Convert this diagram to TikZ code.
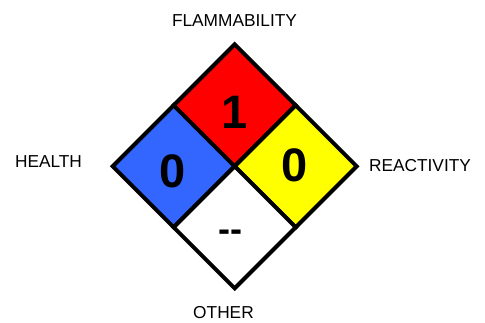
\documentclass[tikz,border=0pt]{standalone}
\usepackage{fontspec}
\setmainfont{Liberation Sans}
\newfontfamily\lab{Liberation Sans}
\definecolor{hblue}{RGB}{51,102,255}
\definecolor{hred}{RGB}{255,0,0}
\definecolor{hyellow}{RGB}{255,255,0}
\begin{document}
\begin{tikzpicture}[x=1pt,y=1pt,
  cell/.style={draw=black,line width=4pt,line join=miter},
  lbl/.style={font=\lab\fontsize{17.3}{19}\selectfont,anchor=base,inner sep=0pt},
  num/.style={font=\lab\bfseries\fontsize{47}{50}\selectfont,anchor=base,inner sep=0pt}]
\useasboundingbox (0,0) rectangle (485,322);
\coordinate (C) at (234.7,155.7);
\def\h{61}
% health (left)
\filldraw[cell,fill=hblue] (C) -- ++(-\h,\h) -- ++(-\h,-\h) -- ++(\h,-\h) -- cycle;
% flammability (top)
\filldraw[cell,fill=hred] (C) -- ++(-\h,\h) -- ++(\h,\h) -- ++(\h,-\h) -- cycle;
% reactivity (right)
\filldraw[cell,fill=hyellow] (C) -- ++(\h,\h) -- ++(\h,-\h) -- ++(-\h,-\h) -- cycle;
% other (bottom)
\filldraw[cell,fill=white] (C) -- ++(\h,-\h) -- ++(-\h,-\h) -- ++(-\h,\h) -- cycle;
% numbers
\node[num] (nh) at (173,322-187.5) {0};
\node[num] (nf) at (234.3,322-128.3) {1};
\node[num] (nr) at (295,322-181.5) {0};
\node[font=\lab\bfseries\fontsize{36}{38}\selectfont,inner sep=0pt] (no) at (230,322-236) {-{}-};
% labels
\node[lbl] (lf) at (234.5,322-27) {FLAMMABILITY};
\node[lbl] (lh) at (48.5,322-168) {HEALTH};
\node[lbl] (lr) at (420,322-172) {REACTIVITY};
\node[lbl] (lo) at (223.5,322-318.5) {OTHER};
\end{tikzpicture}
\end{document}
